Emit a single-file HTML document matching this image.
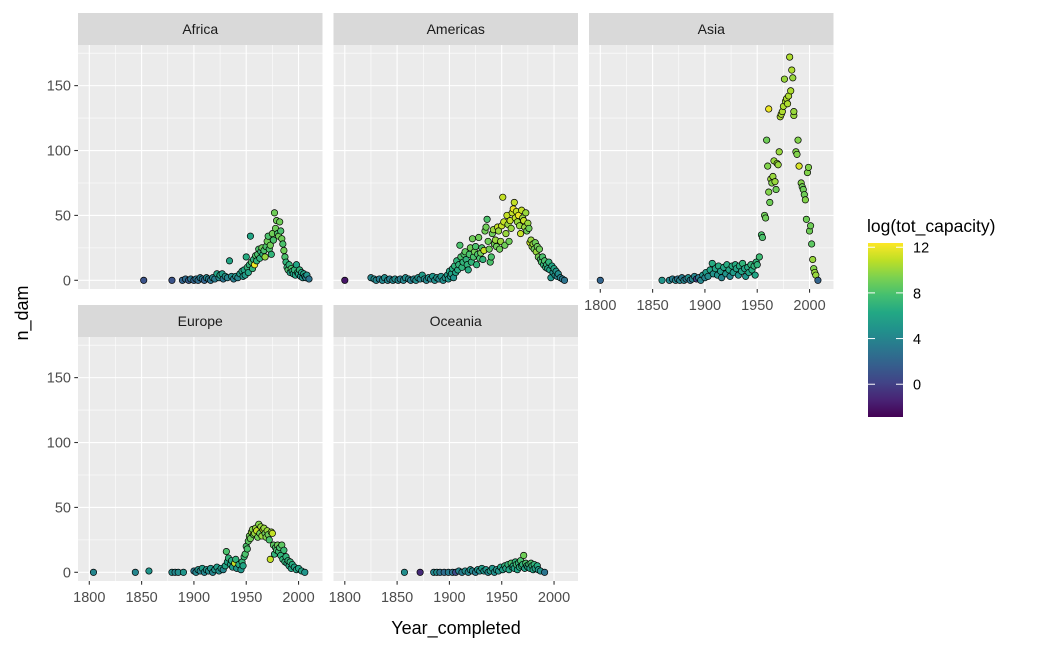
<!DOCTYPE html>
<html><head><meta charset="utf-8"><style>
body{margin:0;background:#fff;}
svg{display:block;font-family:"Liberation Sans",Arial,sans-serif;}
</style></head><body>
<svg id="chart" width="1050" height="648" viewBox="0 0 1050 648"></svg>
<script>
const facetNames = ["Africa","Americas","Asia","Europe","Oceania"];
const africaYears = [1852,1879,1889,1892,1895,1897,1900,1902,1904,1906,1908,1910,1912,1914,1916,1918,1920,1922,1924,1925,1927,1928,1930,1932,1934,1936,1938,1940,1942,1944,1946,1947,1948,1949,1950,1951,1952,1953,1954,1955,1956,1957,1958,1959,1960,1961,1962,1963,1964,1965,1966,1967,1968,1969,1970,1971,1972,1973,1974,1975,1976,1977,1978,1979,1980,1981,1982,1983,1984,1985,1986,1987,1988,1989,1990,1991,1992,1993,1994,1995,1996,1997,1998,1999,2000,2001,2002,2003,2004,2005,2006,2007,2008,2010];
const africaCounts = [0,0,0,1,0,1,0,1,0,2,1,0,2,1,0,2,1,5,2,4,5,1,3,2,15,3,1,3,2,5,7,3,8,4,18,10,6,12,34,14,9,16,12,19,15,20,24,17,22,25,20,23,18,26,30,34,24,27,20,36,31,52,40,46,36,34,45,38,32,28,23,18,14,10,8,12,6,9,7,5,8,4,12,6,5,8,3,6,2,5,3,2,4,1];
const africaCaps = [1,1,2,2.5,1.5,3,2,3,2.5,3.5,3,2,4,3.5,3,4,3.5,6,4.5,6,5.5,3,5,4,6,4.5,3.5,5,4,5.5,6,5,6,5.5,6.5,7,6,7,6,8,7,7,12,8,7,8,8,7,7,9,7,8,10,8,9,8,8,9,7,9,8,9,9,9,8,9,9,8,9,8,9,8,7,7,8,7,6,8,7,6,7,6,6,7,6,7,5,6,5,6,5,4,5,3];

const americasYears = [1800,1825,1828,1830,1833,1836,1838,1841,1843,1846,1848,1851,1853,1856,1858,1861,1863,1866,1868,1870,1872,1874,1876,1878,1880,1882,1884,1886,1888,1890,1892,1894,1896,1898,1899,1900,1901,1902,1903,1904,1905,1906,1907,1908,1909,1910,1911,1912,1913,1914,1915,1916,1917,1918,1919,1920,1921,1922,1923,1924,1925,1926,1927,1928,1929,1930,1931,1932,1933,1934,1935,1936,1937,1938,1939,1940,1941,1942,1943,1944,1945,1946,1947,1948,1949,1950,1951,1952,1953,1954,1955,1956,1957,1958,1959,1960,1961,1962,1963,1964,1965,1966,1967,1968,1969,1970,1971,1972,1973,1974,1975,1976,1977,1978,1979,1980,1981,1982,1983,1984,1985,1986,1987,1988,1989,1990,1991,1992,1993,1994,1995,1996,1997,1998,1999,2000,2001,2002,2003,2004,2006,2008,2010];
const americasCounts = [0,2,1,0,1,0,2,0,1,0,1,0,1,0,2,1,0,1,0,2,1,4,1,0,2,1,3,0,2,1,3,0,2,4,1,7,3,5,9,2,11,6,15,8,12,27,18,10,14,20,22,16,12,8,20,25,14,32,18,22,26,12,20,33,17,21,25,16,23,38,41,47,30,24,14,18,36,39,28,31,26,41,38,24,30,42,64,45,27,36,50,43,30,46,40,52,55,60,48,53,45,50,42,36,54,48,46,41,52,38,44,40,29,31,26,28,24,29,22,26,18,24,16,14,18,12,15,10,12,9,14,8,2,11,6,9,4,7,3,5,2,1,0];
const americasCaps = [-2,4,4.5,4,3.5,4,4.5,4,3.5,4,4.5,4,3.5,4,4.5,4,3.5,4,4.5,5,4,5.5,4.5,4,5,4,5,4.5,5,4,5,4.5,5,5.5,5,6,5,6,6.5,5,7,6,7,6.5,7,8,8,7,7,8,8.5,7,7,6.5,8,9,7,9,8,9,8,7,8,9,8,9,8,7,11,9,9,8,9,9,8,8,9,10,9,10,9,11,10,9,10,11,11,11,9,10,11,10,9,11,10,11,12,11,11,11,10,12,10,11,11,10,11,10,10,9,10,9,11,10,10,10,9,9,10,9,9,9,8,8,8,7,8,7,7,6,7,6,5,6,5,6,5,5,4,4.5,4,3.5,3];

const asiaYears = [1800,1859,1866,1869,1872,1874,1876,1878,1880,1882,1884,1886,1888,1890,1892,1894,1896,1898,1900,1901,1903,1905,1907,1908,1910,1912,1913,1915,1916,1918,1920,1921,1923,1924,1926,1927,1929,1930,1932,1933,1935,1936,1938,1939,1941,1942,1944,1945,1947,1948,1949,1950,1952,1954,1955,1957,1958,1959,1960,1961,1961,1962,1963,1964,1965,1966,1967,1968,1969,1970,1971,1972,1973,1974,1975,1976,1977,1978,1979,1980,1981,1982,1983,1984,1985,1985,1987,1988,1989,1990,1992,1993,1994,1995,1996,1997,1998,1999,2000,2001,2002,2003,2004,2005,2006,2008];
const asiaCounts = [0,0,0,1,0,1,0,2,0,1,2,0,1,3,1,2,0,4,2,6,3,8,13,5,9,4,11,7,2,10,5,12,8,3,11,6,12,9,4,11,7,13,9,3,10,6,12,8,11,4,14,12,18,35,33,50,48,108,88,68,132,60,78,75,80,92,76,70,90,89,99,126,128,130,134,155,138,140,136,142,172,146,162,156,127,130,99,97,108,88,75,72,70,66,62,47,83,87,38,42,28,16,9,6,4,0];
const asiaCaps = [2,5,4,3.5,4,3,4,3.5,4,3,4.5,3,4,4,0,3.5,4,5,4,5.5,4.5,6,6.5,5,6,5,6.5,5.5,4,6,5,6.5,6,4,6.5,5.5,6.5,6,5,6.5,6,7,6,5,6.5,6,7,6.5,7,6,7,7,7.5,8,8,9,9,9,9.5,9.5,12,9,10,9.5,10,10,10,9,10,10,10,10.5,10.5,10.5,10.5,10,10.5,10.5,10.5,10.5,10.5,10.5,10.5,10,10,10,9.5,9.5,9.5,11.5,9.5,9,9,9,9.5,9,9.5,9.5,9,9,8.5,10,9.5,10,10,2];

const europeYears = [1804,1844,1857,1879,1882,1885,1890,1900,1902,1904,1906,1908,1910,1912,1914,1916,1918,1920,1922,1924,1926,1928,1930,1931,1932,1933,1935,1936,1937,1939,1940,1941,1943,1945,1946,1947,1948,1949,1950,1951,1952,1953,1954,1955,1956,1957,1958,1959,1960,1961,1962,1963,1964,1965,1966,1967,1968,1969,1970,1971,1972,1973,1974,1975,1976,1977,1978,1979,1980,1981,1982,1983,1984,1985,1986,1987,1988,1989,1990,1991,1992,1993,1994,1996,1998,2000,2003,2006];
const europeCounts = [0,0,1,0,0,0,0,1,0,2,1,3,0,2,1,3,0,2,4,1,3,2,5,16,8,11,6,9,4,7,10,3,6,2,8,5,12,14,20,18,24,28,26,31,33,29,30,34,32,27,37,30,35,28,33,34,30,27,32,29,25,10,31,30,21,14,19,17,21,16,19,13,21,10,17,8,12,7,9,5,8,3,6,4,2,3,1,0];
const europeCaps = [4,4,5,4.5,4,4.5,5,3,4,5,4,5.5,4,5,4.5,5,4,5,5.5,4.5,5.5,4,6,8,6,7,6,6.5,5.5,11,7,5,6.5,5,7,6,7.5,8,8,8,8.5,9,9,10,9.5,9,10,10,11,9,9.5,9,10,10,11,10,9,9.5,10,9,8,11,10,11,8.5,7,8,8,9,7.5,8,7,8.5,7,7.5,7,7,6.5,7,6.5,7,6,6.5,6,6,6,6,5];

const oceaniaYears = [1857,1872,1885,1888,1891,1895,1899,1903,1906,1909,1912,1915,1918,1920,1922,1925,1927,1929,1931,1933,1935,1937,1939,1941,1943,1945,1947,1949,1951,1953,1954,1956,1957,1959,1960,1961,1962,1963,1964,1965,1966,1967,1968,1969,1970,1971,1972,1973,1974,1975,1976,1977,1978,1979,1980,1981,1982,1984,1985,1987,1991];
const oceaniaCounts = [0,0,0,0,0,0,0,0,0,1,0,1,0,2,1,0,2,1,3,1,2,0,1,3,0,2,1,4,2,5,3,6,2,7,4,5,3,8,6,2,7,4,9,5,6,13,3,7,5,4,6,3,7,5,2,6,3,5,2,1,0];
const oceaniaCaps = [4.5,-1,4,4.5,3,2.5,3.5,3,0.5,4,3.5,4.5,4,5,4,3.5,5,4.5,5.5,5,5,4,5.5,5,4.5,5,5,6,5.5,7,6,7,6,8,6,6.5,6,7,7.5,6,7,6.5,8,7,7,9,6,8,7,6,7.5,6,8,7,6,7,6,6.5,5.5,5,3];

const xTicks = [1800,1850,1900,1950,2000];
const xMinor = [1825,1875,1925,1975];
const yTicks = [0,50,100,150];
const yMinor = [25,75,125,175];
const legendTicks = [0,4,8,12];

const facetData = [
  [africaYears, africaCounts, africaCaps],
  [americasYears, americasCounts, americasCaps],
  [asiaYears, asiaCounts, asiaCaps],
  [europeYears, europeCounts, europeCaps],
  [oceaniaYears, oceaniaCounts, oceaniaCaps]
];

const NS = "http://www.w3.org/2000/svg";
const svg = document.getElementById("chart");
function mk(tag, attrs, parent){ const e=document.createElementNS(NS,tag); for(const k in attrs) e.setAttribute(k,attrs[k]); (parent||svg).appendChild(e); return e; }

const XMIN=1789.2, XMAX=2022.9, YMIN=-6.7, YMAX=181.3;
const PW=244.5, PH=244;
const lefts=[78,333.5,589,78,333.5];
const tops=[45,45,45,337,337];
function sx(v,l){ return l + (v-XMIN)/(XMAX-XMIN)*PW; }
function sy(v,t){ return t + PH - (v-YMIN)/(YMAX-YMIN)*PH; }

const vir=["#440154","#482475","#414487","#355f8d","#2a788e","#21918c","#22a884","#44bf70","#7ad151","#bddf26","#fde725"];
const CMIN=-2.87, CMAX=12.37;
function hex(h){return [1,3,5].map(i=>parseInt(h.substr(i,2),16));}
function color(v){
  let t=(v-CMIN)/(CMAX-CMIN); t=Math.max(0,Math.min(1,t));
  const p=t*10, i=Math.min(9,Math.floor(p)), f=p-i;
  const a=hex(vir[i]), b=hex(vir[i+1]);
  return "rgb("+a.map((c,k)=>Math.round(c+(b[k]-c)*f)).join(",")+")";
}

facetNames.forEach((name,fi)=>{
  const l=lefts[fi], t=tops[fi];
  const g=mk("g",{});
  
  
  const strip=mk("rect",{x:l,y:t-32,width:PW,height:32,fill:"#d9d9d9"},g);
  
  
  const st=mk("text",{x:l+PW/2,y:t-11,"text-anchor":"middle","font-size":"14","fill":"#1a1a1a"},g);
  st.textContent=name;
  
  
  const bg=mk("rect",{x:l,y:t,width:PW,height:PH,fill:"#ebebeb"},g);
  
  
  xMinor.forEach(v=>{const x=sx(v,l); mk("line",{x1:x,x2:x,y1:t,y2:t+PH,stroke:"#fff","stroke-width":0.55},g);});
  yMinor.forEach(v=>{const y=sy(v,t); if(y>t) mk("line",{x1:l,x2:l+PW,y1:y,y2:y,stroke:"#fff","stroke-width":0.55},g);});
  xTicks.forEach(v=>{const x=sx(v,l); mk("line",{x1:x,x2:x,y1:t,y2:t+PH,stroke:"#fff","stroke-width":1.1},g);});
  yTicks.forEach(v=>{const y=sy(v,t); mk("line",{x1:l,x2:l+PW,y1:y,y2:y,stroke:"#fff","stroke-width":1.1},g);});
  const [ys,cs,cp]=facetData[fi];
  ys.forEach((yr,i)=>{
    const c=mk("circle",{cx:sx(yr,l),cy:sy(cs[i],t),r:3.2,fill:color(cp[i]),stroke:"#000","stroke-width":0.7},g);
    
    
  });
  if(fi>=2){
    xTicks.forEach(v=>{const x=sx(v,l);
      mk("line",{x1:x,x2:x,y1:t+PH,y2:t+PH+3.7,stroke:"#333","stroke-width":1.1},g);
      const tx=mk("text",{x:x,y:t+PH+21,"text-anchor":"middle","font-size":"14.5",fill:"#4d4d4d"},g);
      tx.textContent=v;
      
      
    });
  }
  if(fi===0||fi===3){
    yTicks.forEach(v=>{const y=sy(v,t);
      mk("line",{x1:l-3.7,x2:l,y1:y,y2:y,stroke:"#333","stroke-width":1.1},g);
      const ty=mk("text",{x:l-7,y:y+5,"text-anchor":"end","font-size":"14.5",fill:"#4d4d4d"},g);
      ty.textContent=v;
      
      
    });
  }
});

const yt=mk("text",{x:0,y:0,transform:"translate(28,313) rotate(-90)","text-anchor":"middle","font-size":"18",fill:"#000"});
yt.textContent="n_dam";


const xt=mk("text",{x:456,y:634,"text-anchor":"middle","font-size":"18",fill:"#000"});
xt.textContent="Year_completed";



const lg=mk("g",{});


const lt=mk("text",{x:867,y:232,"font-size":"17.5",fill:"#000"},lg);
lt.textContent="log(tot_capacity)";


const defs=mk("defs",{},lg);
const grad=mk("linearGradient",{id:"vg",x1:0,y1:1,x2:0,y2:0},defs);
vir.forEach((c,i)=>mk("stop",{offset:(i*10)+"%","stop-color":c},grad));
const LT=243, LB=417;
const bar=mk("rect",{x:868,y:LT,width:35,height:LB-LT,fill:"url(#vg)"},lg);


legendTicks.forEach(v=>{
  const y=LB-(v-CMIN)/(CMAX-CMIN)*(LB-LT);
  mk("line",{x1:868,x2:875,y1:y,y2:y,stroke:"#fff","stroke-width":1},lg);
  mk("line",{x1:896,x2:903,y1:y,y2:y,stroke:"#fff","stroke-width":1},lg);
  const tx=mk("text",{x:913,y:y+5.5,"font-size":"14.5",fill:"#000"},lg);
  tx.textContent=v;
  
  
});
</script>
</body></html>
